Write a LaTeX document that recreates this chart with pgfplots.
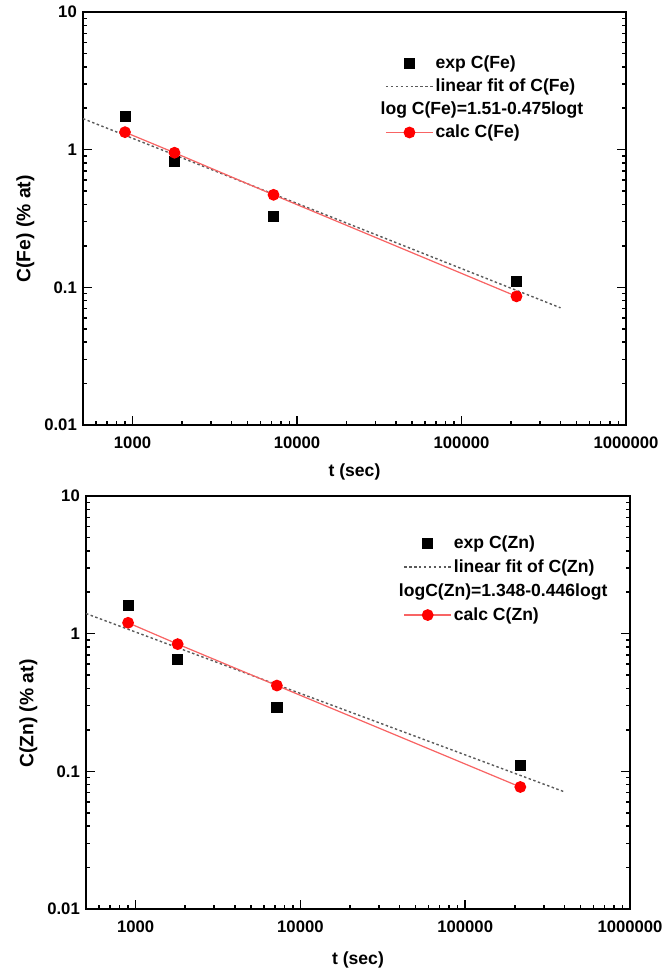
\documentclass[border=0pt]{standalone}
\usepackage{pgfplots}
\pgfplotsset{compat=1.18}
\usepackage{fontspec}
\setmainfont{Liberation Sans}

\definecolor{calcline}{RGB}{248,100,100}
\definecolor{fitgray}{RGB}{90,90,90}

\begin{document}
\begin{tikzpicture}
\useasboundingbox (0,0) rectangle (13.3,-19.42);

% upper panel: Fe
\begin{axis}[
  at={(1.66cm,-0.24cm)}, anchor=north west,
  scale only axis, width=10.86cm, height=8.26cm,
  xmode=log, ymode=log,
  xmin=500, xmax=1000000, ymin=0.01, ymax=10,
  xtick={1000,10000,100000,1000000},
  xticklabels={1000,10000,100000,1000000},
  minor xtick={600,700,800,900,2000,3000,4000,5000,6000,7000,8000,9000,
    20000,30000,40000,50000,60000,70000,80000,90000,
    200000,300000,400000,500000,600000,700000,800000,900000},
  ytick={0.01,0.1,1,10},
  yticklabels={0.01,0.1,1,10},
  minor ytick={0.02,0.03,0.04,0.05,0.06,0.07,0.08,0.09,
    0.2,0.3,0.4,0.5,0.6,0.7,0.8,0.9,2,3,4,5,6,7,8,9},
  xtick pos=left, ytick pos=both,
  tick align=inside,
  major tick length=0.18cm, minor tick length=0.09cm,
  axis line style={line width=1.1pt},
  every tick/.style={black, line width=0.9pt},
  xticklabel style={yshift=-0.12cm},
  tick label style={font=\bfseries\fontsize{9.5}{11}\selectfont},
  xlabel={t (sec)}, ylabel={C(Fe) (\% at)},
  xlabel style={font=\bfseries\fontsize{10}{12}\selectfont,
    at={(axis description cs:0.5,-0.114)}, anchor=center},
  ylabel style={font=\bfseries\fontsize{11}{13}\selectfont,
    at={(axis description cs:-0.106,0.475)}, anchor=center},
  legend cell align=left,
  legend image code/.code={\draw[mark repeat=2,mark phase=2,#1] plot coordinates {(0cm,0cm) (0.47cm,0cm) (0.94cm,0cm)};},
  legend style={draw=none, fill=none, inner sep=0pt, anchor=north west,
    at={(axis description cs:0.556,0.904)},
    font=\bfseries\fontsize{10}{12}\selectfont,
    nodes={inner sep=0.04cm, text height=0.28cm, text depth=0.1cm}},
]
\addplot[only marks, mark=square*, mark size=2.9pt, black]
  coordinates {(900,1.75) (1800,0.82) (7200,0.33) (216000,0.11)};
\addlegendentry{exp C(Fe)}
\addplot[no marks, fitgray, line width=0.8pt, dash pattern=on 1.4pt off 1.4pt]
  coordinates {(500,1.68) (400000,0.071)};
\addlegendentry{linear fit of C(Fe)}
\addlegendimage{empty legend}
\addlegendentry{\hspace{-1.1cm}log C(Fe)=1.51-0.475logt}
\addplot[calcline, line width=0.7pt, mark=*, mark size=3pt, mark options={fill=red, draw=red}]
  coordinates {(900,1.34) (1800,0.95) (7200,0.47) (216000,0.086)};
\addlegendentry{calc C(Fe)}
\end{axis}

% lower panel: Zn
\begin{axis}[
  at={(1.72cm,-9.92cm)}, anchor=north west,
  scale only axis, width=10.88cm, height=8.26cm,
  xmode=log, ymode=log,
  xmin=500, xmax=1000000, ymin=0.01, ymax=10,
  xtick={1000,10000,100000,1000000},
  xticklabels={1000,10000,100000,1000000},
  minor xtick={600,700,800,900,2000,3000,4000,5000,6000,7000,8000,9000,
    20000,30000,40000,50000,60000,70000,80000,90000,
    200000,300000,400000,500000,600000,700000,800000,900000},
  ytick={0.01,0.1,1,10},
  yticklabels={0.01,0.1,1,10},
  minor ytick={0.02,0.03,0.04,0.05,0.06,0.07,0.08,0.09,
    0.2,0.3,0.4,0.5,0.6,0.7,0.8,0.9,2,3,4,5,6,7,8,9},
  xtick pos=left, ytick pos=both,
  tick align=inside,
  major tick length=0.18cm, minor tick length=0.09cm,
  axis line style={line width=1.1pt},
  every tick/.style={black, line width=0.9pt},
  xticklabel style={yshift=-0.12cm},
  tick label style={font=\bfseries\fontsize{9.5}{11}\selectfont},
  xlabel={t (sec)}, ylabel={C(Zn) (\% at)},
  xlabel style={font=\bfseries\fontsize{10}{12}\selectfont,
    at={(axis description cs:0.5,-0.123)}, anchor=center},
  ylabel style={font=\bfseries\fontsize{11}{13}\selectfont,
    at={(axis description cs:-0.106,0.473)}, anchor=center},
  legend cell align=left,
  legend image code/.code={\draw[mark repeat=2,mark phase=2,#1] plot coordinates {(0cm,0cm) (0.47cm,0cm) (0.94cm,0cm)};},
  legend style={draw=none, fill=none, inner sep=0pt, anchor=north west,
    at={(axis description cs:0.583,0.916)},
    font=\bfseries\fontsize{10}{12}\selectfont,
    nodes={inner sep=0.04cm, text height=0.3cm, text depth=0.1cm}},
]
\addplot[only marks, mark=square*, mark size=2.9pt, black]
  coordinates {(900,1.6) (1800,0.65) (7200,0.29) (216000,0.11)};
\addlegendentry{exp C(Zn)}
\addplot[no marks, fitgray, line width=0.8pt, dash pattern=on 1.4pt off 1.4pt]
  coordinates {(500,1.4) (400000,0.071)};
\addlegendentry{linear fit of C(Zn)}
\addlegendimage{empty legend}
\addlegendentry{\hspace{-1.1cm}logC(Zn)=1.348-0.446logt}
\addplot[calcline, line width=0.7pt, mark=*, mark size=3pt, mark options={fill=red, draw=red}]
  coordinates {(900,1.2) (1800,0.84) (7200,0.42) (216000,0.077)};
\addlegendentry{calc C(Zn)}
\end{axis}
\end{tikzpicture}
\end{document}
